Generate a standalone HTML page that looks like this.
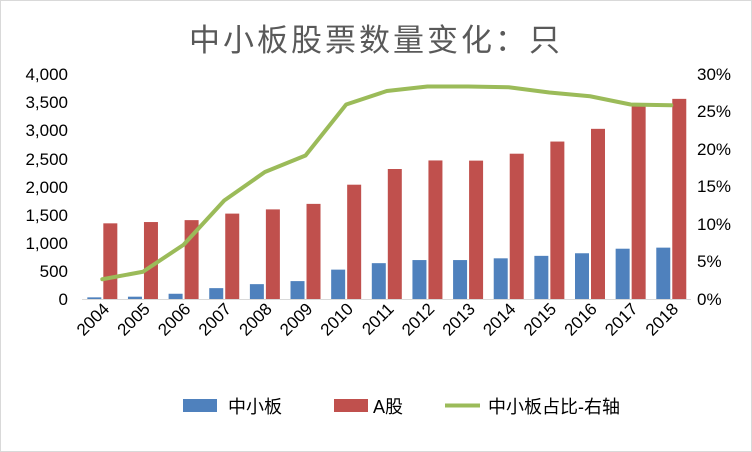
<!DOCTYPE html>
<html><head><meta charset="utf-8"><style>
html,body{margin:0;padding:0;background:#fff;}
svg{display:block;}
text{font-family:"Liberation Sans","Noto Sans CJK SC",sans-serif;fill:#000;}
</style></head><body>
<svg width="752" height="452" viewBox="0 0 752 452" xmlns="http://www.w3.org/2000/svg">
<rect x="0.5" y="0.5" width="751" height="451" fill="#fff" stroke="#d9d9d9"/>
<text x="376" y="51" text-anchor="middle" font-size="31" style="fill:#595959" letter-spacing="3">中小板股票数量变化：只</text>
<g id="chart"></g>
<line x1="82" y1="299.5" x2="691" y2="299.5" stroke="#d9d9d9"/>
<g font-size="17" text-anchor="end">
<text x="68" y="305">0</text><text x="68" y="277">500</text><text x="68" y="249">1,000</text>
<text x="68" y="221">1,500</text><text x="68" y="193">2,000</text><text x="68" y="165">2,500</text>
<text x="68" y="136">3,000</text><text x="68" y="108">3,500</text><text x="68" y="80">4,000</text>
</g>
<g font-size="17" text-anchor="start">
<text x="697" y="305">0%</text><text x="697" y="267">5%</text><text x="697" y="230">10%</text>
<text x="697" y="192">15%</text><text x="697" y="155">20%</text><text x="697" y="117">25%</text>
<text x="697" y="80">30%</text>
</g>
<g font-size="18">
<rect x="183" y="399" width="34" height="13" fill="#4f81bd"/>
<text x="228" y="413">中小板</text>
<rect x="334" y="399" width="34" height="13" fill="#c0504d"/>
<text x="373" y="413">A股</text>
<line x1="445" y1="405.5" x2="480" y2="405.5" stroke="#9bbb59" stroke-width="4"/>
<text x="488" y="413">中小板占比-右轴</text>
</g>
</svg>
<script>
var blue=[38,50,102,202,273,327,531,646,701,701,732,776,822,903,922];
var red=[1354,1377,1411,1527,1602,1700,2041,2320,2472,2469,2592,2808,3034,3467,3567];
var pct=[2.7,3.7,7.3,13.2,17.0,19.2,26.0,27.8,28.4,28.4,28.3,27.6,27.1,26.0,25.9];
var g=document.getElementById('chart'),s='';
var x0=82,cw=40.64,y0=299.5,sc=225/4000;
var pts=[];
for(var i=0;i<15;i++){
 var c=x0+cw*(i+0.5);
 var hb=blue[i]*sc,hr=red[i]*sc;
 s+='<rect x="'+(c-15)+'" y="'+(y0-hb)+'" width="14" height="'+hb+'" fill="#4f81bd"/>';
 s+='<rect x="'+(c+1)+'" y="'+(y0-hr)+'" width="14" height="'+hr+'" fill="#c0504d"/>';
 pts.push(c+','+(y0-pct[i]/30*225));
 s+='<text font-size="17" text-anchor="end" transform="translate('+(c+8)+',310) rotate(-45)">'+(2004+i)+'</text>';
}
s+='<polyline points="'+pts.join(' ')+'" fill="none" stroke="#9bbb59" stroke-width="4" stroke-linejoin="round" stroke-linecap="round"/>';
g.innerHTML=s;
</script>
</body></html>
